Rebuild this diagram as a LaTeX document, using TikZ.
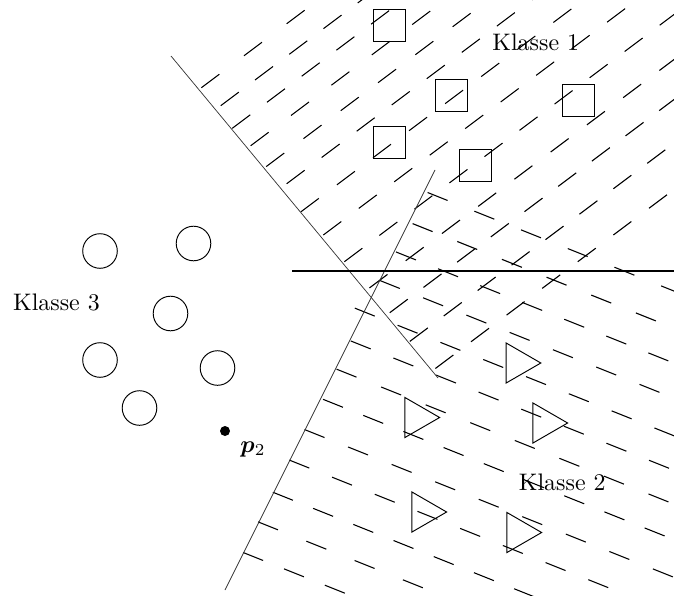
\documentclass[tikz,border=0pt]{standalone}
\usepackage{bm}
\usetikzlibrary{shapes.geometric}
\begin{document}
\begin{tikzpicture}[x=0.4183pt,y=-0.4183pt,
  bound/.style={line width=0.3pt, black!80},
  hline/.style={line width=0.5pt},
  hatchline/.style={line width=0.45pt},
  sq/.style={draw, rectangle, minimum size=13.39pt, inner sep=0pt},
  ci/.style={draw, circle, minimum size=14.47pt, inner sep=0pt},
  tri/.style={draw, regular polygon, regular polygon sides=3, minimum size=19.33pt, inner sep=0pt, rotate=-90},
  lab/.style={anchor=base west, inner sep=0pt}]
\useasboundingbox (0,0) rectangle (674,595);

% end points of the three separating lines
\coordinate (a1) at (171,56);  \coordinate (a2) at (438,378);
\coordinate (b1) at (435,170); \coordinate (b2) at (225,590);
\coordinate (h1) at (292,271); \coordinate (h2) at (674,271);

\begin{scope}
  \clip (0,0) rectangle (674,595);
  % rising dashes: c = offset across, s = start along, p = period (px)
  \foreach \c/\s/\p in {191/108.4/53.3, 217/113.2/42.8, 242/108.8/43.4,
      267/113/50.5, 293/113/46.6, 319/119/43.8, 350/113.5/45.1,
      382/117.6/44.35, 416/118.4/43.8, 452/122.8/45.3, 484/124.2/42.1,
      519/123/42.4, 556/127.2/44.5} {
    \pgfmathsetmacro\on{22.5*0.4183}
    \pgfmathsetmacro\off{(\p-22.5)*0.4183}
    \draw[hatchline, dash pattern=on \on pt off \off pt]
      ({0.8*\s+0.6*\c},{-0.6*\s+0.8*\c}) -- ++(560,-420);
  }
  % falling dashes
  \foreach \d/\s/\p in {20/468.8/50.3, 54.5/466.4/48.1, 87/461.5/45.3,
      119.5/457.1/46.6, 154.5/444.1/46.1, 186.5/452.5/45.9, 218/449.8/48,
      251/448.4/43.3, 286/442.5/46.9, 320/439.7/46, 356/436.4/43.3,
      389/433.6/52, 423/431.1/44} {
    \pgfmathsetmacro\on{21.5*0.4183}
    \pgfmathsetmacro\off{(\p-21.5)*0.4183}
    \draw[hatchline, dash pattern=on \on pt off \off pt]
      ({0.928*\s-0.371*\d},{0.371*\s+0.928*\d}) -- ++(650,260);
  }
\end{scope}

% separating lines
\draw[bound] (a1) -- (a2);
\draw[bound] (b1) -- (b2);
\draw[hline] (h1) -- (h2);

% class 1
\node[sq] (s1) at (389,25) {};
\node[sq] (s2) at (451.5,95) {};
\node[sq] (s3) at (578.5,100) {};
\node[sq] (s4) at (389,142) {};
\node[sq] (s5) at (475,165) {};

% class 2
\node[tri] (t1) at (517.7,363) {};
\node[tri] (t2) at (416.5,417.5) {};
\node[tri] (t3) at (544.5,423) {};
\node[tri] (t4) at (423.5,512) {};
\node[tri] (t5) at (518.5,532.5) {};

% class 3
\node[ci] (c1) at (100,251) {};
\node[ci] (c2) at (193.5,243.5) {};
\node[ci] (c3) at (170.5,313.5) {};
\node[ci] (c4) at (100,360) {};
\node[ci] (c5) at (217.5,368) {};
\node[ci] (c6) at (139.5,408) {};

% test point
\node[circle, fill, minimum size=4.18pt, inner sep=0pt] (p2) at (225,431) {};
\node[lab] (p2lab) at (240,452) {$\bm{p}_2$};

% class labels
\node[lab] (k1) at (492,51) {Klasse 1};
\node[lab] (k2) at (518.5,490) {Klasse 2};
\node[lab] (k3) at (12.7,310) {Klasse 3};
\end{tikzpicture}
\end{document}
